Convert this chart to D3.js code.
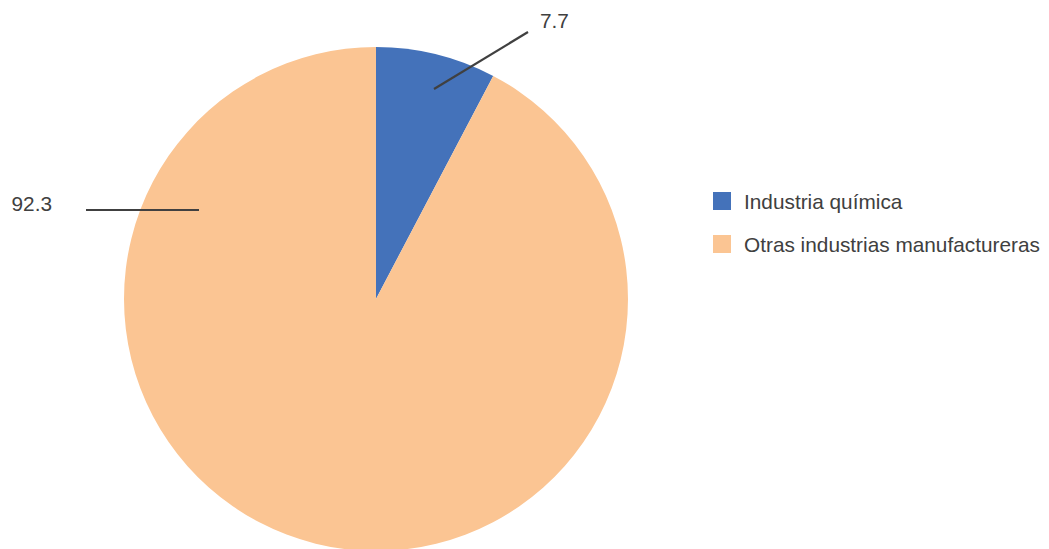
<!DOCTYPE html>
<html><head><meta charset="utf-8">
<script src="https://cdn.jsdelivr.net/npm/d3@7"></script>
<style>body{margin:0;background:#fff}svg{display:block}</style>
</head><body>
<svg id="c" width="1049" height="549"></svg>
<script>
const categories = ["Industria química", "Otras industrias manufactureras"];
const values = [7.7, 92.3];
const labels = ["7.7", "92.3"];
const colors = ["#4472BA", "#FBC593"];

const svg = d3.select("#c");
const cx = 376, cy = 299, r = 252;
const pie = d3.pie().sort(null).value(d => d)(values);
const arc = d3.arc().innerRadius(0).outerRadius(r);
const g = svg.append("g").attr("transform", `translate(${cx},${cy})`);
g.selectAll("path").data(pie).enter().append("path")
  .attr("d", arc).attr("fill", (d, i) => colors[i]);

const font = "Liberation Sans, Arial, sans-serif";
const fs = 20.8;
// leader lines + labels (positions relative to centre)
const leaders = [
  {x1: 58, y1: -210, x2: 152, y2: -267, tx: 164, ty: -278, anchor: "start"},
  {x1: -177, y1: -89, x2: -290, y2: -89, tx: -324, ty: -95, anchor: "end"}
];
leaders.forEach((l, i) => {
  g.append("line").attr("x1", l.x1).attr("y1", l.y1).attr("x2", l.x2).attr("y2", l.y2)
    .attr("stroke", "#404040").attr("stroke-width", 2.2);
  g.append("text").attr("x", l.tx).attr("y", l.ty).attr("text-anchor", l.anchor)
    .attr("dy", "0.35em").attr("font-family", font)
    .attr("font-size", fs).attr("fill", "#404040").text(labels[i]);
});

const lg = svg.append("g").attr("transform", "translate(713,192)");
categories.forEach((c, i) => {
  lg.append("rect").attr("x", 0).attr("y", i * 43).attr("width", 18).attr("height", 18).attr("fill", colors[i]);
  lg.append("text").attr("x", 31).attr("y", i * 43 + 9.5).attr("dy", "0.35em")
    .attr("font-family", font).attr("font-size", fs)
    .attr("fill", "#404040").text(c);
});
</script>
</body></html>
